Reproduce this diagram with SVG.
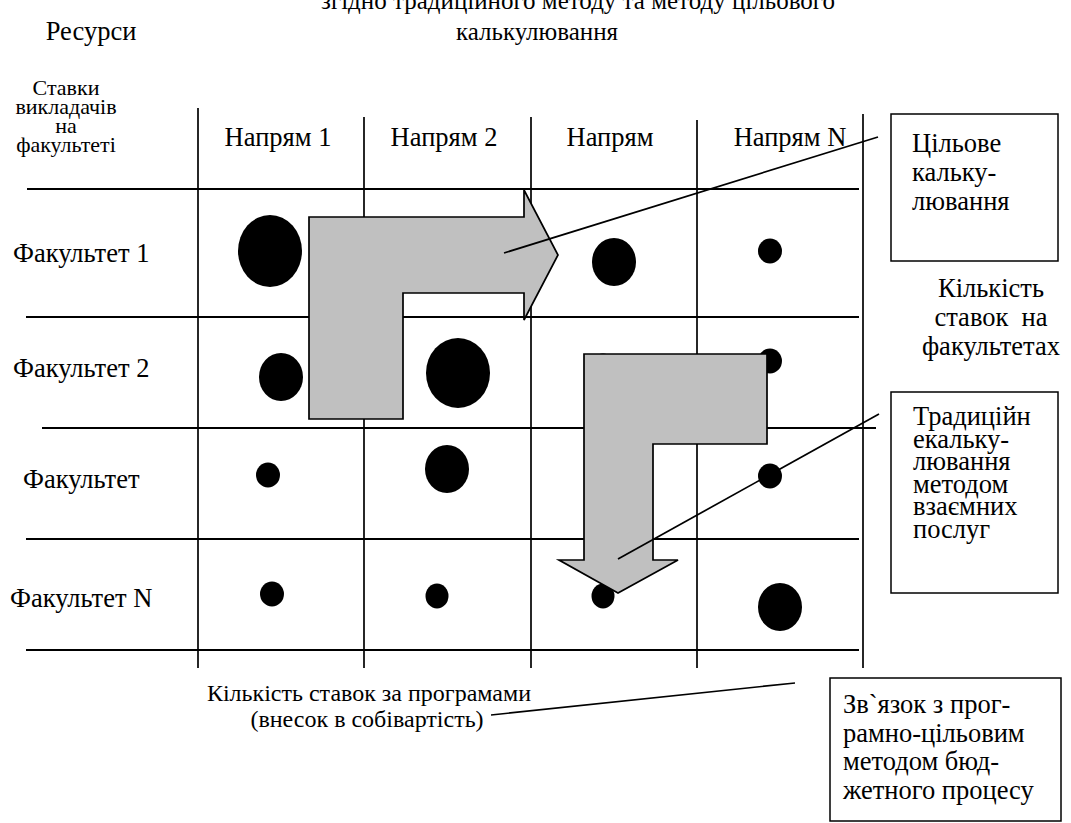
<svg xmlns="http://www.w3.org/2000/svg" width="1071" height="823" viewBox="0 0 1071 823">
<style>
  text { font-family: "Liberation Serif", "Times New Roman", serif; font-size: 26.5px; fill: #000; }
  .c { text-anchor: middle; }
  .ttl { font-size: 25px; }
  .hdr { font-size: 22px; }
  .bot { font-size: 24px; }
  .hl { stroke: #000; stroke-width: 2; fill: none; }
  .vl { stroke: #000; stroke-width: 1.7; fill: none; }
  .dot { fill: #000; }
  .arrow { fill: #C0C0C0; stroke: #000; stroke-width: 1.7; stroke-linejoin: miter; }
  .box { fill: #fff; stroke: #000; stroke-width: 1.5; }
  .conn { stroke: #000; stroke-width: 1.7; fill: none; }
</style>
<rect width="1071" height="823" fill="#fff"/>

<g id="title">
  <text x="578" y="9" class="c ttl">згідно традиційного методу та методу цільового</text>
  <text x="537" y="40" class="c ttl">калькулювання</text>
</g>
<g id="resources-label">
  <text x="91" y="40" class="c" font-size="28">Ресурси</text>
</g>
<g id="corner-label">
  <text x="66" y="95" class="c hdr">Ставки</text>
  <text x="66" y="114" class="c hdr">викладачів</text>
  <text x="66" y="133" class="c hdr">на</text>
  <text x="66" y="152" class="c hdr">факультеті</text>
</g>

<g id="grid">
  <line class="hl" x1="27" y1="189" x2="859" y2="189"/>
  <line class="hl" x1="26" y1="317" x2="859" y2="317"/>
  <line class="hl" x1="42" y1="428" x2="876" y2="428"/>
  <line class="hl" x1="26" y1="539" x2="859" y2="539"/>
  <line class="hl" x1="26" y1="650" x2="859" y2="650"/>
  <line class="vl" x1="198" y1="108" x2="198" y2="668"/>
  <line class="vl" x1="364" y1="117" x2="364" y2="668"/>
  <line class="vl" x1="531" y1="117" x2="531" y2="668"/>
  <line class="vl" x1="697" y1="120" x2="697" y2="668"/>
  <line class="vl" x1="863" y1="114" x2="863" y2="668"/>
</g>

<g id="column-headers">
  <text x="278" y="146" class="c">Напрям 1</text>
  <text x="444" y="146" class="c">Напрям 2</text>
  <text x="610" y="146" class="c">Напрям</text>
  <text x="790" y="146" class="c">Напрям N</text>
</g>

<g id="row-labels">
  <text x="13" y="262">Факультет 1</text>
  <text x="13" y="377">Факультет 2</text>
  <text x="23" y="488">Факультет</text>
  <text x="10" y="607">Факультет N</text>
</g>

<g id="dots">
  <ellipse class="dot" cx="270" cy="251" rx="32" ry="36"/>
  <ellipse class="dot" cx="614" cy="262" rx="22" ry="24"/>
  <ellipse class="dot" cx="770" cy="251" rx="12" ry="12.5"/>
  <ellipse class="dot" cx="281" cy="377" rx="22" ry="24"/>
  <ellipse class="dot" cx="458" cy="373" rx="32" ry="35"/>
  <ellipse class="dot" cx="603" cy="366" rx="12" ry="12.5"/>
  <ellipse class="dot" cx="770" cy="361" rx="12" ry="12.5"/>
  <ellipse class="dot" cx="268" cy="475" rx="12" ry="12.5"/>
  <ellipse class="dot" cx="447" cy="469" rx="22" ry="24"/>
  <ellipse class="dot" cx="770" cy="476" rx="12" ry="12.5"/>
  <ellipse class="dot" cx="272" cy="594" rx="12" ry="12.5"/>
  <ellipse class="dot" cx="437" cy="596" rx="11.5" ry="12.5"/>
  <ellipse class="dot" cx="603" cy="596" rx="11.5" ry="12.5"/>
  <ellipse class="dot" cx="780" cy="607" rx="22" ry="24"/>
</g>

<g id="arrow-target">
  <polygon class="arrow" points="309,419 309,217 524,217 524,190 558,255 524,320 524,293 403,293 403,419"/>
</g>
<g id="arrow-traditional">
  <polygon class="arrow" points="584,354 767,354 767,444 653,444 653,560 678,560 618,593 559,560 584,560"/>
</g>

<g id="box-target">
  <rect class="box" x="891" y="114" width="167" height="147"/>
  <text x="912" y="152">Цільове</text>
  <text x="912" y="181">кальку-</text>
  <text x="912" y="210">лювання</text>
</g>

<g id="faculty-count-label">
  <text x="991" y="297" class="c">Кількість</text>
  <text x="991" y="326" class="c" xml:space="preserve">ставок  на</text>
  <text x="991" y="355" class="c">факультетах</text>
</g>

<g id="box-traditional">
  <rect class="box" x="891" y="392" width="167" height="201"/>
  <text x="913" y="425">Традиційн</text>
  <text x="913" y="447.5">екальку-</text>
  <text x="913" y="470">лювання</text>
  <text x="913" y="492.5">методом</text>
  <text x="913" y="515">взаємних</text>
  <text x="913" y="537.5">послуг</text>
</g>

<g id="program-count-label">
  <text x="369" y="701" class="c bot">Кількість ставок за програмами</text>
  <text x="367" y="727" class="c bot">(внесок в собівартість)</text>
</g>

<g id="box-budget">
  <rect class="box" x="830" y="678" width="231" height="143"/>
  <text x="843" y="713">Зв`язок з прог-</text>
  <text x="843" y="742">рамно-цільовим</text>
  <text x="843" y="770">методом бюд-</text>
  <text x="843" y="799">жетного процесу</text>
</g>

<g id="connectors">
  <line class="conn" x1="491" y1="715" x2="795" y2="683"/>
  <line class="conn" x1="504" y1="253" x2="878" y2="137"/>
  <line class="conn" x1="618" y1="559" x2="879" y2="414"/>
</g>
</svg>
